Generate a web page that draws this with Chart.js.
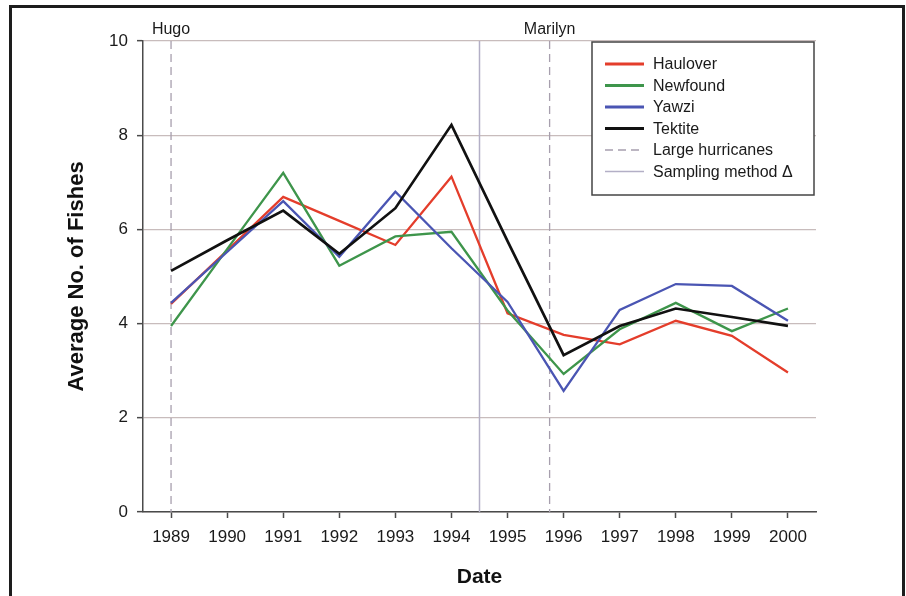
<!DOCTYPE html>
<html>
<head>
<meta charset="utf-8">
<title>Average No. of Fishes</title>
<script src="https://cdn.jsdelivr.net/npm/chart.js@4.4.0/dist/chart.umd.min.js"></script>
<style>
  html, body { margin: 0; padding: 0; background: #fff; overflow: hidden; }
  #wrap { position: relative; width: 906px; height: 596px; }
  #frame {
    position: absolute; left: 9px; top: 5px; width: 896px; height: 640px;
    box-sizing: border-box; border: 3px solid #1d1d1d; border-bottom: none;
    pointer-events: none;
  }
</style>
</head>
<body>
<div id="wrap">
  <canvas id="fish-chart"></canvas>
  <div id="frame"></div>
</div>
<script>
const years = [1989, 1990, 1991, 1992, 1993, 1994, 1995, 1996, 1997, 1998, 1999, 2000];
const haulover = [4.42, 5.55, 6.69, 6.18, 5.67, 7.12, 4.22, 3.76, 3.56, 4.06, 3.74, 2.96];
const newfound = [3.95, 5.58, 7.20, 5.23, 5.85, 5.95, 4.28, 2.93, 3.88, 4.44, 3.84, 4.32];
const yawzi = [4.44, 5.52, 6.60, 5.42, 6.80, 5.60, 4.46, 2.57, 4.29, 4.84, 4.80, 4.06];
const tektite = [5.12, 5.77, 6.40, 5.48, 6.45, 8.22, 5.75, 3.33, 3.95, 4.32, 4.14, 3.95];

const hurricaneNames = ['Hugo', 'Marilyn'];
const hurricaneYears = [1989, 1995.75];
const samplingChange = 1994.5;

const FONT = 'Arial, "Liberation Sans", Helvetica, sans-serif';

function series(values) {
  return years.map((yr, i) => ({ x: yr, y: values[i] }));
}

// vertical markers spanning the full y range; a null point breaks the path between them
function verticals(xs) {
  const pts = [];
  xs.forEach((v, i) => {
    if (i > 0) pts.push({ x: v, y: null });
    pts.push({ x: v, y: 10 }, { x: v, y: 0 });
  });
  return pts;
}

const stormLabels = {
  id: 'stormLabels',
  afterDraw(chart) {
    const { ctx, chartArea, scales: { x } } = chart;
    ctx.save();
    ctx.font = '16px ' + FONT;
    ctx.fillStyle = '#1a1a1a';
    ctx.textAlign = 'center';
    ctx.textBaseline = 'alphabetic';
    hurricaneNames.forEach((name, i) => {
      ctx.fillText(name, x.getPixelForValue(hurricaneYears[i]), chartArea.top - 7);
    });
    ctx.restore();
  }
};

// framed legend sitting inside the top-right corner of the plot
const boxLegend = {
  id: 'boxLegend',
  afterDraw(chart) {
    const { ctx, chartArea } = chart;
    const w = 222, h = 153;
    const bx = chartArea.right - 2 - w, by = chartArea.top + 1;
    ctx.save();
    ctx.fillStyle = '#fff';
    ctx.fillRect(bx, by, w, h);
    ctx.lineWidth = 1.5;
    ctx.strokeStyle = '#444';
    ctx.strokeRect(bx, by, w, h);
    ctx.font = '16px ' + FONT;
    ctx.textBaseline = 'middle';
    ctx.textAlign = 'left';
    chart.data.datasets.forEach((ds, i) => {
      const y = by + 22 + i * 21.5;
      ctx.beginPath();
      ctx.setLineDash(ds.borderDash || []);
      ctx.lineWidth = ds.borderDash || ds.borderWidth < 2 ? ds.borderWidth : 3;
      ctx.strokeStyle = ds.borderColor;
      ctx.moveTo(bx + 13, y);
      ctx.lineTo(bx + 52, y);
      ctx.stroke();
      ctx.setLineDash([]);
      ctx.fillStyle = '#1a1a1a';
      ctx.fillText(ds.label, bx + 61, y + 1);
    });
    ctx.restore();
  }
};

const ctx = document.getElementById('fish-chart');
new Chart(ctx, {
  type: 'line',
  data: {
    datasets: [
      { label: 'Haulover', data: series(haulover), borderColor: '#e43d2b', borderWidth: 2.3, order: 4 },
      { label: 'Newfound', data: series(newfound), borderColor: '#3e954b', borderWidth: 2.3, order: 3 },
      { label: 'Yawzi', data: series(yawzi), borderColor: '#4a55b3', borderWidth: 2.3, order: 2 },
      { label: 'Tektite', data: series(tektite), borderColor: '#111', borderWidth: 2.7, order: 1 },
      { label: 'Large hurricanes', data: verticals(hurricaneYears), borderColor: '#a79fae', borderWidth: 1.3, borderDash: [8, 5], order: 6 },
      { label: 'Sampling method Δ', data: verticals([samplingChange]), borderColor: '#b3afc6', borderWidth: 1.5, order: 5 },
    ].map(ds => Object.assign({ pointRadius: 0, tension: 0, fill: false, spanGaps: false }, ds)),
  },
  options: {
    responsive: true,
    maintainAspectRatio: false,
    animation: false,
    layout: { padding: { left: 0, top: 41, right: 90, bottom: 0 } },
    plugins: {
      legend: { display: false },
      tooltip: { enabled: false },
    },
    scales: {
      x: {
        type: 'linear',
        min: 1988.5,
        max: 2000.5,
        afterBuildTicks: scale => { scale.ticks = years.map(v => ({ value: v })); },
        afterFit: scale => { scale.height = 84; },
        ticks: {
          color: '#1a1a1a', font: { family: FONT, size: 17 }, padding: 9,
          maxRotation: 0, autoSkip: false, callback: v => String(v),
        },
        grid: { drawOnChartArea: false, tickLength: 6, tickColor: '#4a4a4a', tickWidth: 1.5 },
        border: { color: '#4a4a4a', width: 1.5 },
        title: {
          display: true, text: 'Date', color: '#111',
          font: { family: FONT, size: 21, weight: 'bold' }, padding: { top: 0, bottom: 6 },
        },
      },
      y: {
        min: 0,
        max: 10,
        afterFit: scale => { scale.width = 143; },
        ticks: { stepSize: 2, color: '#1a1a1a', font: { family: FONT, size: 17 }, padding: 9 },
        grid: { color: '#c8bcbc', lineWidth: 1.3, tickLength: 6, tickColor: '#4a4a4a', tickWidth: 1.5 },
        border: { color: '#4a4a4a', width: 1.5 },
        title: {
          display: true, text: 'Average No. of Fishes', color: '#111',
          font: { family: FONT, size: 22, weight: 'bold' }, padding: { top: 64, bottom: 0 },
        },
      },
    },
  },
  plugins: [stormLabels, boxLegend],
});
</script>
</body>
</html>
